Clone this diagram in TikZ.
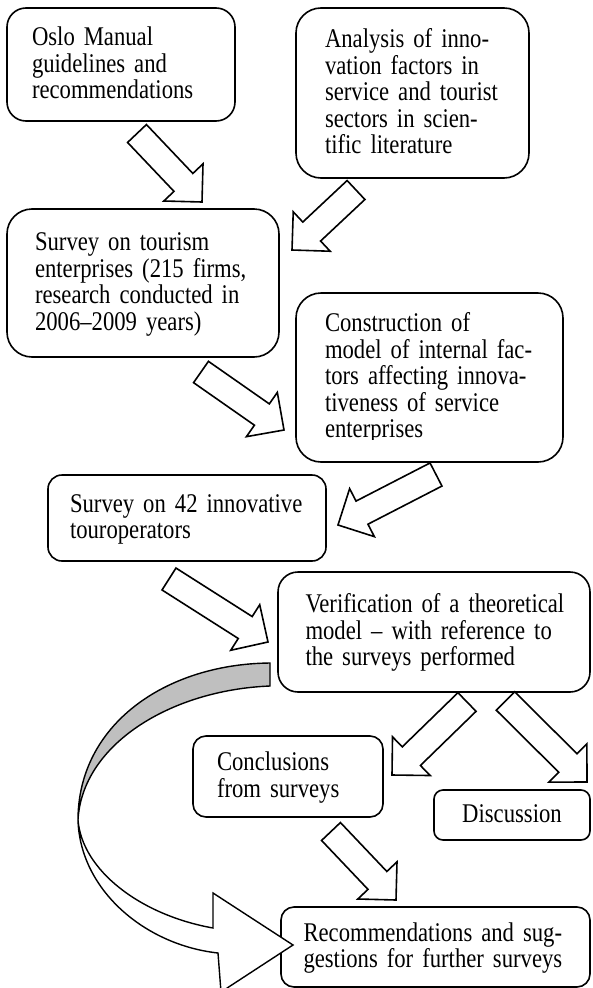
\documentclass[tikz,border=0pt]{standalone}
\usepackage{fontspec}
\setmainfont{Liberation Serif}[FakeStretch=0.84]
\usetikzlibrary{calc}
\definecolor{ribbongray}{RGB}{191,191,191}
\newcommand\wordstrut{\rule[-5pt]{0pt}{25.5pt}}
\newcommand\blockarrow[2]{%
  \draw[barrow] ($(#1)!13pt!90:(#2)$)
    -- ($(#2)!27pt!(#1)!13pt!90:(#2)$)
    -- ($(#2)!27pt!(#1)!27pt!90:(#2)$)
    -- (#2)
    -- ($(#2)!27pt!(#1)!27pt!-90:(#2)$)
    -- ($(#2)!27pt!(#1)!13pt!-90:(#2)$)
    -- ($(#1)!13pt!-90:(#2)$) -- cycle;}
\begin{document}
\begin{tikzpicture}[x=1pt,y=-1pt,
  box/.style={draw, line width=1.6pt, rounded corners=#1, inner sep=0pt,
    align=left, font=\fontsize{27}{26.5}\selectfont,
    execute at begin node=\wordstrut, execute at end node=\wordstrut},
  barrow/.style={draw, fill=white, line width=1.6pt, line join=miter},
  ribbon/.style={draw, line width=1.4pt, line join=miter}]
\useasboundingbox (0,0) rectangle (592,988);
\fill[white] (0,0) rectangle (592,988);

% boxes
\node[box=19pt, minimum width=228pt, minimum height=113pt, text width=178pt]
  (oslo) at (121,64.5) {Oslo Manual\\guidelines and\\recommendations};
\node[box=25pt, minimum width=233pt, minimum height=170pt, text width=175pt]
  (analysis) at (412.5,93) {Analysis of inno-\\vation factors in\\service and tourist\\sectors in scien-\\tific literature};
\node[box=25pt, minimum width=272pt, minimum height=148pt, text width=216pt]
  (tourism) at (143,283) {Survey on tourism\\enterprises (215 firms,\\research conducted in\\2006–2009 years)};
\node[box=25pt, minimum width=267pt, minimum height=169pt, text width=209pt]
  (construction) at (429.5,377.5) {Construction of\\model of internal fac-\\tors affecting innova-\\tiveness of service\\enterprises};
\fill[white] (318,440.2) rectangle (545,448);
\node[box=14pt, minimum width=278pt, minimum height=86pt, text width=234pt]
  (touroper) at (187,518) {Survey on 42 innovative\\touroperators};
\node[box=20pt, minimum width=312pt, minimum height=120pt, text width=257pt]
  (verif) at (434,632) {\makebox[\linewidth][s]{Verification of a theoretical}\\\makebox[\linewidth][s]{model – with reference to}\\the surveys performed};
\node[box=13pt, minimum width=190pt, minimum height=81pt, text width=142pt]
  (concl) at (288,776.5) {Conclusions\\from surveys};
\node[box=9pt, minimum width=156pt, minimum height=50pt, text width=130pt, align=center]
  (disc) at (512,815) {Discussion};
\node[box=13pt, minimum width=309pt, minimum height=80pt, text width=264pt]
  (recom) at (435.5,947) {Recommendations and sug-\\gestions for further surveys};

% block arrows
\coordinate (a1s) at (137,133.5);  \coordinate (a1e) at (202,202);
\coordinate (a2s) at (356,190);    \coordinate (a2e) at (292,250);
\coordinate (a3s) at (201,372);    \coordinate (a3e) at (284,430);
\coordinate (a4s) at (436,474.5);  \coordinate (a4e) at (338,525);
\coordinate (a5s) at (169,579);    \coordinate (a5e) at (268,642);
\coordinate (a6s) at (467,702);    \coordinate (a6e) at (392,775);
\coordinate (a7s) at (505.5,701);  \coordinate (a7e) at (587,782);
\coordinate (a8s) at (331,831.5);  \coordinate (a8e) at (396,900);
\blockarrow{a1s}{a1e}
\blockarrow{a2s}{a2e}
\blockarrow{a3s}{a3e}
\blockarrow{a4s}{a4e}
\blockarrow{a5s}{a5e}
\blockarrow{a6s}{a6e}
\blockarrow{a7s}{a7e}
\blockarrow{a8s}{a8e}

% curved feedback arrow
\coordinate (cturn) at (78,820);
\draw[ribbon, fill=ribbongray] (270,663) .. controls (165,664) and (78,725) .. (cturn)
  .. controls (82,745) and (170,690) .. (270,686) -- cycle;
\draw[ribbon, fill=white] (cturn) .. controls (80,890) and (145,945) .. (218,953)
  -- (221,992) -- (293,945) -- (213,893) -- (213,928)
  .. controls (140,915) and (82,870) .. (cturn) -- cycle;
\end{tikzpicture}
\end{document}
